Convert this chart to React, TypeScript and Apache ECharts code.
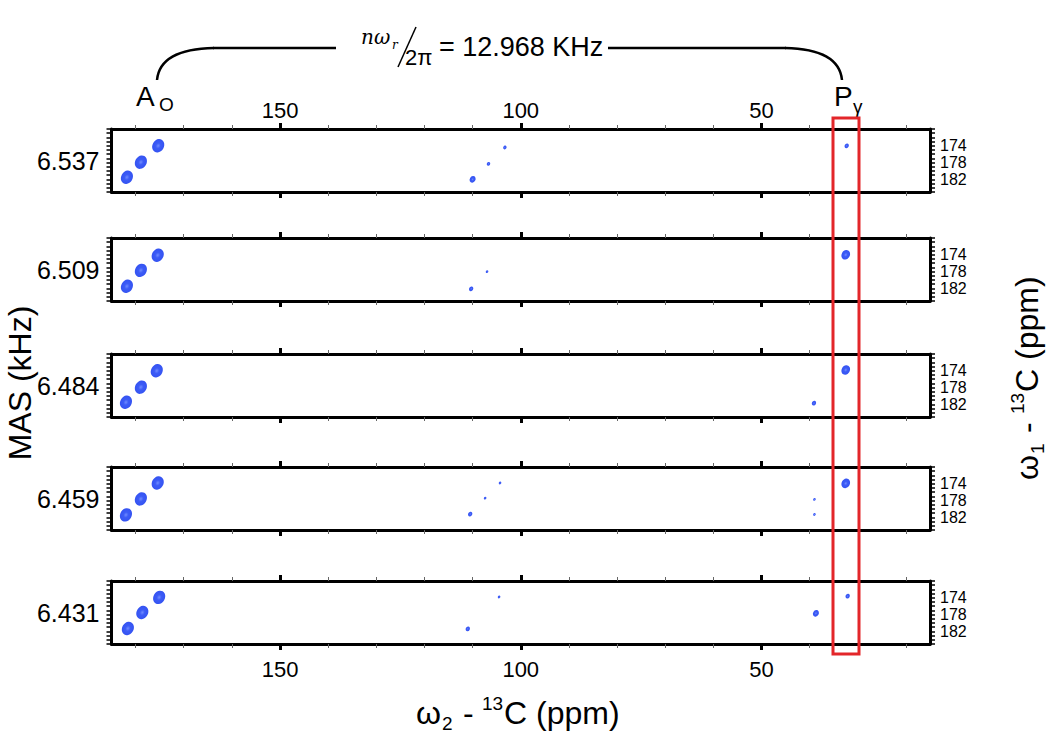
import { useEffect, useRef } from "react";
import * as echarts from "echarts";

// MAS spinning rates (kHz), one panel each
const masLabels = ["6.537", "6.509", "6.484", "6.459", "6.431"];

// Axis ranges (ppm)
const X_MIN = 15;
const X_MAX = 185;
const Y_MIN = 170;
const Y_MAX = 185;

// Tick labels
const xLabelValues = [150, 100, 50];
const yLabelValues = [174, 178, 182];

// Cross peaks per panel: [ω2 ppm, ω1 ppm, intensity]
const peaks6537 = [
  [181.8, 181.5, 14], [178.9, 177.9, 14], [175.3, 174.0, 14],
  [110.0, 182.0, 7], [106.7, 178.3, 4], [103.3, 174.4, 4],
  [32.3, 174.0, 5],
];
const peaks6509 = [
  [181.8, 181.5, 14], [178.9, 177.7, 14], [175.4, 174.1, 14],
  [110.3, 182.1, 5], [107.0, 178.0, 3],
  [32.5, 174.0, 10],
];
const peaks6484 = [
  [182.0, 181.5, 14], [178.9, 177.9, 14], [175.6, 174.0, 14],
  [39.1, 181.7, 5],
  [32.5, 173.8, 10],
];
const peaks6459 = [
  [182.0, 181.4, 14], [178.9, 177.6, 14], [175.4, 173.8, 14],
  [110.5, 181.2, 5], [107.4, 177.4, 3], [104.3, 173.8, 3],
  [39.0, 177.7, 3], [39.0, 181.3, 3],
  [32.5, 173.9, 10],
];
const peaks6431 = [
  [181.6, 181.3, 14], [178.6, 177.5, 14], [175.1, 173.9, 14],
  [111.0, 181.4, 5], [104.5, 173.8, 3],
  [38.7, 177.7, 7],
  [32.1, 173.6, 5],
];
const panelPeaks = [peaks6537, peaks6509, peaks6484, peaks6459, peaks6431];

// Layout
const FONT = "'Liberation Sans', Arial, Helvetica, sans-serif";
const panelTops = [129, 238, 354, 467, 581];
const GRID_LEFT = 111.5;
const GRID_WIDTH = 818.5;
const GRID_HEIGHT = 63;
const minorTicks = Array.from({ length: 17 }, (_, k) => 20 + 10 * k);
const majorTicks = [50, 100, 150];

function titleGroup(x: number, y: number, rotation: number, sub: string) {
  const base = { fill: "#000", fontFamily: FONT, textVerticalAlign: "middle", textAlign: "left" };
  return {
    type: "group",
    x,
    y,
    rotation,
    children: [
      { type: "text", x: -96, y: 0, style: { ...base, text: "ω", fontSize: 32 } },
      { type: "text", x: -70, y: 10, style: { ...base, text: sub, fontSize: 19 } },
      { type: "text", x: -58, y: 0, style: { ...base, text: " - ", fontSize: 32 } },
      { type: "text", x: -30, y: -10, style: { ...base, text: "13", fontSize: 19 } },
      { type: "text", x: -8, y: 0, style: { ...base, text: "C (ppm)", fontSize: 32 } },
    ],
  };
}

export default function App() {
  const ref = useRef<HTMLDivElement>(null);

  useEffect(() => {
    if (!ref.current) return;
    const chart = echarts.init(ref.current, null, { renderer: "svg" });

    const grid = panelTops.map((t) => ({
      left: GRID_LEFT,
      width: GRID_WIDTH,
      top: t,
      height: GRID_HEIGHT,
      show: false,
    }));

    const xAxis: any[] = [];
    const yAxis: any[] = [];
    panelTops.forEach((_, i) => {
      (["bottom", "top"] as const).forEach((pos) => {
        const showLabel = (pos === "top" && i === 0) || (pos === "bottom" && i === panelTops.length - 1);
        // minor ticks + frame line
        xAxis.push({
          type: "value",
          gridIndex: i,
          position: pos,
          min: X_MIN,
          max: X_MAX,
          inverse: true,
          axisLine: { show: true, onZero: false, lineStyle: { color: "#000", width: 3 } },
          axisTick: { show: true, inside: false, customValues: minorTicks, length: 4, lineStyle: { color: "#666", width: 1 } },
          axisLabel: { show: false },
          splitLine: { show: false },
        });
        // major ticks + labels
        xAxis.push({
          type: "value",
          gridIndex: i,
          position: pos,
          min: X_MIN,
          max: X_MAX,
          inverse: true,
          axisLine: { show: false, onZero: false },
          axisTick: { show: true, inside: false, customValues: majorTicks, length: 6, lineStyle: { color: "#000", width: 3 } },
          axisLabel: {
            show: showLabel,
            customValues: xLabelValues,
            margin: pos === "top" ? 8 : 14,
            fontSize: 22,
            color: "#000",
            fontFamily: FONT,
          },
          splitLine: { show: false },
        });
      });
      yAxis.push({
        type: "value",
        gridIndex: i,
        position: "left",
        min: Y_MIN,
        max: Y_MAX,
        interval: 1,
        inverse: true,
        axisLine: { show: true, onZero: false, lineStyle: { color: "#000", width: 3 } },
        axisTick: { show: true, inside: false, length: 5, lineStyle: { color: "#000", width: 1.5 } },
        axisLabel: { show: false },
        splitLine: { show: false },
        name: masLabels[i],
        nameLocation: "middle",
        nameRotate: 0,
        nameGap: 12,
        nameTextStyle: { fontSize: 25, color: "#000", fontFamily: FONT },
      });
      yAxis.push({
        type: "value",
        gridIndex: i,
        position: "right",
        min: Y_MIN,
        max: Y_MAX,
        interval: 1,
        inverse: true,
        axisLine: { show: true, onZero: false, lineStyle: { color: "#000", width: 3 } },
        axisTick: { show: true, inside: false, length: 5, lineStyle: { color: "#000", width: 1.5 } },
        axisLabel: {
          show: true,
          margin: 10,
          fontSize: 16,
          lineHeight: 16,
          color: "#000",
          fontFamily: FONT,
          formatter: (v: number) => (yLabelValues.includes(v) ? String(v) : ""),
        },
        splitLine: { show: false },
      });
    });

    const peakColor = new echarts.graphic.RadialGradient(0.5, 0.5, 0.5, [
      { offset: 0, color: "#6f8bff" },
      { offset: 0.4, color: "#3d5cf6" },
      { offset: 1, color: "#3453f2" },
    ]);

    const series = panelPeaks.map((data, i) => ({
      type: "scatter",
      xAxisIndex: i * 4,
      yAxisIndex: i * 2 + 1,
      data,
      symbol: "circle",
      symbolSize: (v: number[]) => [v[2] * 0.82, v[2]],
      symbolRotate: -30,
      itemStyle: { color: peakColor, opacity: 1 },
      silent: true,
    }));

    const lineStyle = { stroke: "#000", lineWidth: 2.5, fill: "none" };
    const graphic: any[] = [
      // bracket
      { type: "bezierCurve", shape: { x1: 157, y1: 80, x2: 214, y2: 48, cpx1: 160, cpy1: 49 }, style: lineStyle },
      { type: "line", shape: { x1: 213, y1: 48, x2: 336, y2: 48 }, style: lineStyle },
      { type: "line", shape: { x1: 608, y1: 48, x2: 786, y2: 48 }, style: lineStyle },
      { type: "bezierCurve", shape: { x1: 785, y1: 48, x2: 842, y2: 80, cpx1: 839, cpy1: 49 }, style: lineStyle },
      // n ω_r / 2π = 12.968 KHz
      { type: "text", x: 361, y: 37, style: { text: "nω", fontSize: 20, fontStyle: "italic", fontFamily: "'DejaVu Serif', serif", fill: "#000", textVerticalAlign: "middle" } },
      { type: "text", x: 392, y: 45, style: { text: "r", fontSize: 12, fontStyle: "italic", fontFamily: "'DejaVu Serif', serif", fill: "#000", textVerticalAlign: "middle" } },
      { type: "line", shape: { x1: 398, y1: 67, x2: 416, y2: 27 }, style: { stroke: "#000", lineWidth: 1.5 } },
      { type: "text", x: 405, y: 57, style: { text: "2π", fontSize: 22, fontFamily: FONT, fill: "#000", textVerticalAlign: "middle" } },
      { type: "text", x: 439, y: 47, style: { text: "= 12.968 KHz", fontSize: 27, fontFamily: FONT, fill: "#000", textVerticalAlign: "middle" } },
      // A_O and P_γ labels
      { type: "text", x: 136, y: 96, style: { text: "A", fontSize: 28, fontFamily: FONT, fill: "#000", textVerticalAlign: "middle" } },
      { type: "text", x: 159, y: 104, style: { text: "O", fontSize: 19, fontFamily: FONT, fill: "#000", textVerticalAlign: "middle" } },
      { type: "text", x: 834, y: 96, style: { text: "P", fontSize: 28, fontFamily: FONT, fill: "#000", textVerticalAlign: "middle" } },
      { type: "text", x: 853, y: 106, style: { text: "γ", fontSize: 19, fontFamily: FONT, fill: "#000", textVerticalAlign: "middle" } },
      // highlight box
      { type: "rect", shape: { x: 833, y: 118, width: 26, height: 536 }, style: { fill: "none", stroke: "#e3262a", lineWidth: 3 }, z: 100 },
      // axis titles
      { type: "text", x: 20, y: 383, rotation: Math.PI / 2, style: { text: "MAS (kHz)", fontSize: 32, fontFamily: FONT, fill: "#000", textAlign: "center", textVerticalAlign: "middle" } },
      titleGroup(512, 713, 0, "2"),
      titleGroup(1027, 384, Math.PI / 2, "1"),
    ];

    chart.setOption({
      animation: false,
      backgroundColor: "#fff",
      textStyle: { fontFamily: FONT },
      grid,
      xAxis,
      yAxis,
      series,
      graphic,
    });

    return () => chart.dispose();
  }, []);

  return (
    <div
      ref={ref}
      style={{ position: "fixed", left: 0, top: 0, width: 1050, height: 739, background: "#fff" }}
    />
  );
}
